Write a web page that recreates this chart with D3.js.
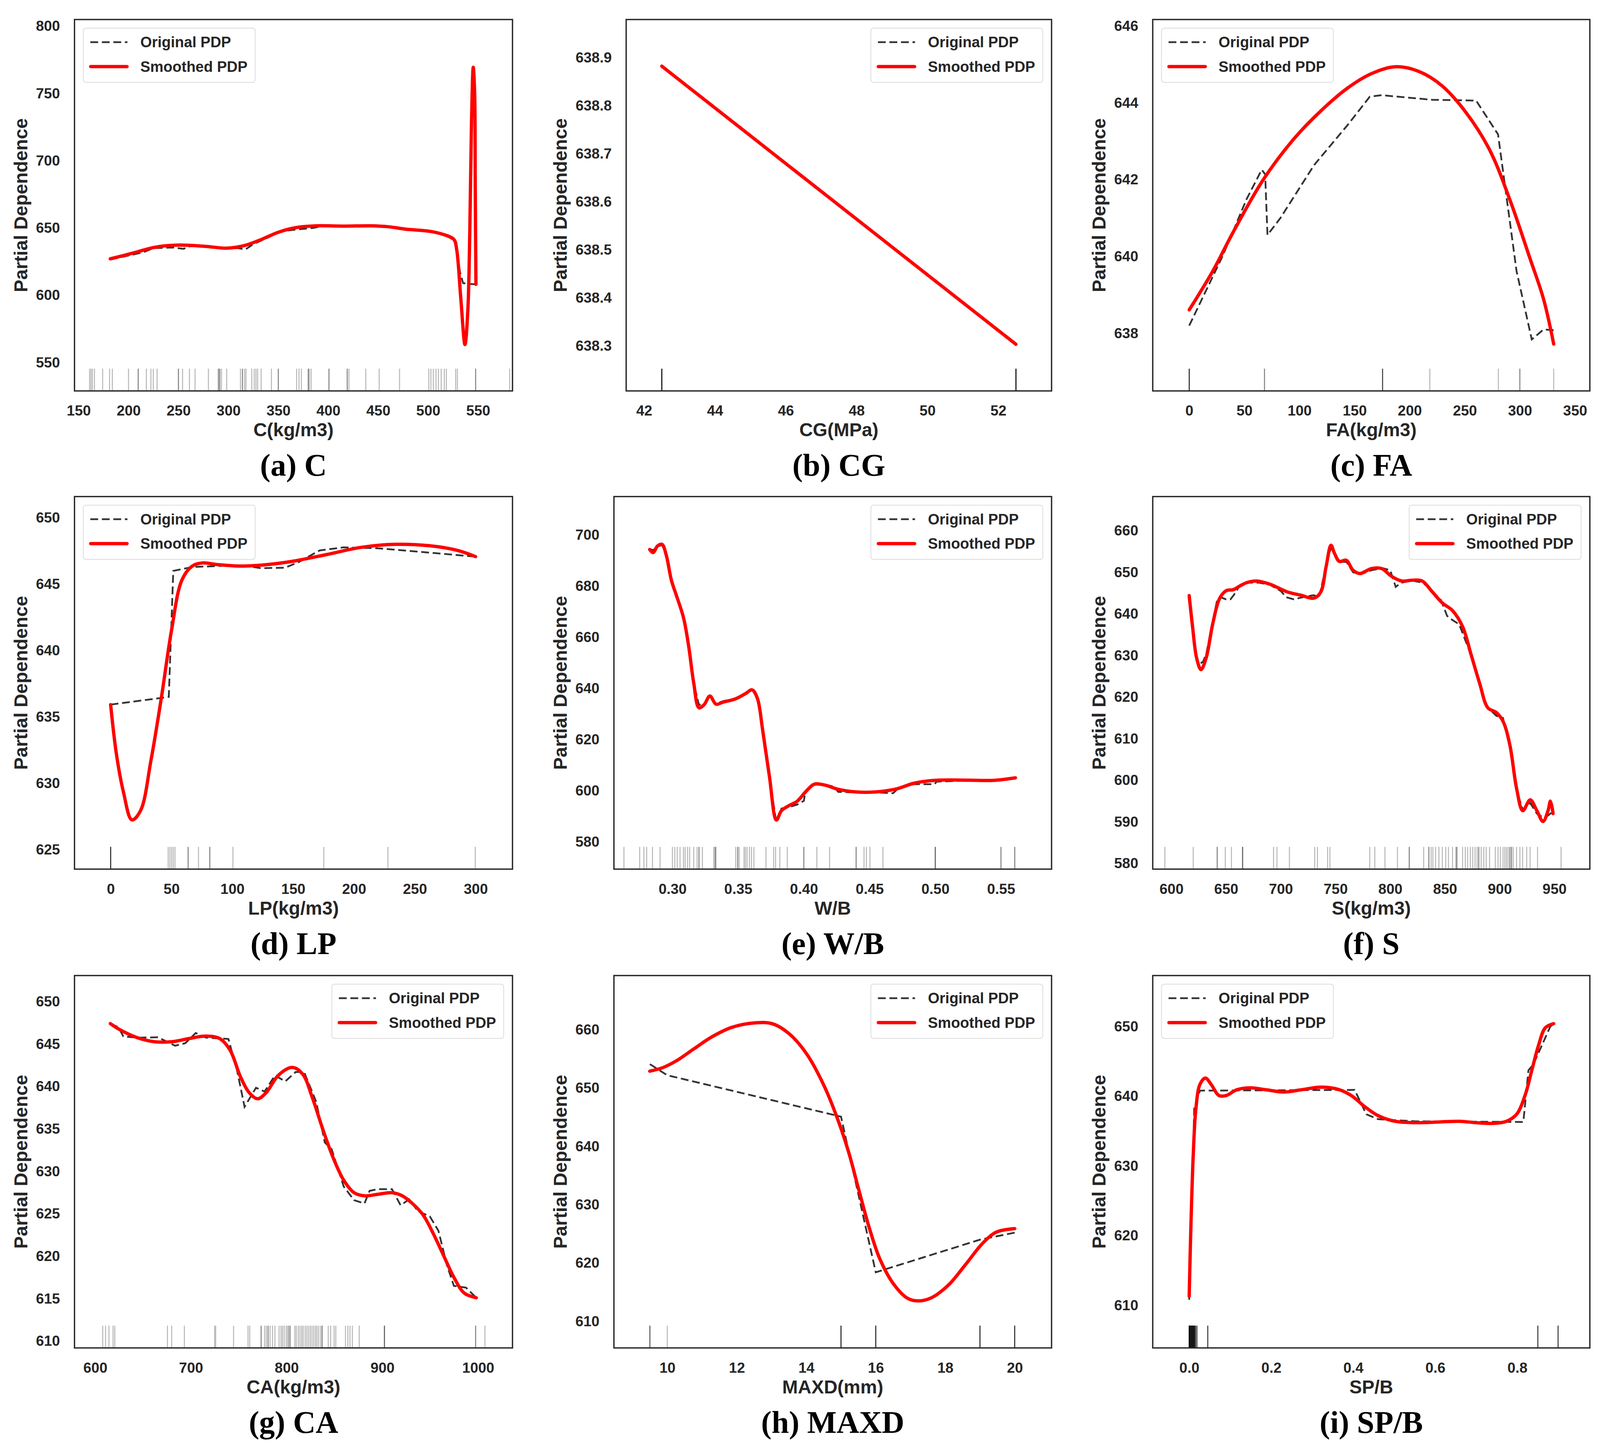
<!DOCTYPE html>
<html>
<head>
<meta charset="utf-8">
<script src="https://cdn.jsdelivr.net/npm/d3@7"></script>
<style>
  body { margin: 0; background: #fff; }
  svg text { font-family: "Liberation Sans", Arial, sans-serif; }
  svg text.caption { font-family: "Liberation Serif", "Times New Roman", serif; }
</style>
</head>
<body>
<svg id="fig" width="4115" height="3718"></svg>
<script>
// ---- (a) C ----
var aOriginal = [[181.7,626.5],[200,629.5],[215,632],[225,635],[245,635.5],[255,634.5],[262,636.5],[280,636],[300,635],[310,635],[317,634],[325,638],[340,643],[352,647.5],[370,649],[385,650],[395,651.5],[420,651.3],[445,651.5],[460,651],[478,648.5],[500,647.5],[515,645.5],[525.9,641],[529,632],[532,617],[535,609],[540,608.5],[547.9,608.1]];
var aSmoothed = [[181.7,627.1],[195,629.5],[208.6,632.2],[225.9,635.6],[250,637.3],[277.6,636.3],[298.3,635.0],[315.5,636.8],[332.8,641.4],[350,646.8],[367.2,650.2],[387.9,651.6],[415.5,651.4],[443.1,651.6],[460.3,650.9],[477.6,649.1],[501.7,647.5],[515.5,645.1],[525.9,641.4],[528.6,634.0],[532.8,597.0],[536.9,563.4],[539.7,587.7],[541.7,645.6],[543.4,726.6],[545.2,769.4],[546.6,749.8],[547.2,680.3],[547.9,608.1]];
var aRug = [161.0,162.4,163.8,165.9,174.1,181.0,183.8,200.0,209.7,209.7,217.9,222.4,224.8,228.6,250.0,250.0,254.1,261.0,266.6,280.0,290.0,290.0,291.4,291.4,293.1,298.3,312.1,314.1,314.1,316.2,317.6,323.4,325.9,327.6,329.3,332.8,343.1,350.0,350.0,368.3,370.7,373.1,380.0,380.0,381.0,382.8,400.7,400.7,419.0,419.0,420.7,437.6,451.0,471.4,500.7,502.8,505.2,507.9,510.3,513.1,516.2,518.3,527.6,529.3,547.6,547.6,581.7];
var aXTicks = [150,200,250,300,350,400,450,500,550];
var aYTicks = [550,600,650,700,750,800];

// ---- (b) CG ----
var bOriginal = [[42.5,638.882],[52.5,638.303]];
var bSmoothed = [[42.5,638.882],[52.5,638.303]];
var bRug = [42.5,42.5,42.5,42.5,42.5,42.5,42.5,52.5,52.5,52.5,52.5,52.5,52.5,52.5];
var bXTicks = [42,44,46,48,50,52];
var bYTicks = [638.3,638.4,638.5,638.6,638.7,638.8,638.9];

// ---- (c) FA ----
var cOriginal = [[0,638.2],[30.6,640.03],[52,641.49],[65.8,642.26],[68.9,642.14],[71,640.56],[82.7,641.0],[113.3,642.38],[143.9,643.43],[163.8,644.16],[174.5,644.2],[220.5,644.08],[260.3,644.06],[280.2,643.18],[297,639.62],[310.8,637.84],[321.5,638.1],[330.7,638.08]];
var cSmoothed = [[0,638.61],[21.4,639.62],[39.8,640.63],[67.4,642.01],[94.9,643.06],[119.4,643.79],[143.9,644.39],[165.3,644.76],[186.7,644.94],[208.2,644.82],[229.6,644.44],[251.1,643.75],[272.5,642.78],[290.9,641.48],[309.3,639.94],[321.5,638.89],[330.7,637.72]];
var cRug = [0,0,0,0,0,68.3,68.3,175.4,175.4,175.4,175.4,218.3,280.5,300,300,330.7];
var cXTicks = [0,50,100,150,200,250,300,350];
var cYTicks = [638,640,642,644,646];

// ---- (d) LP ----
var dOriginal = [[0,635.92],[47.8,636.5],[51.5,646.0],[67.1,646.29],[106.7,646.43],[123.7,646.2],[143.5,646.24],[154.8,646.67],[171.8,647.54],[191.6,647.77],[219.9,647.7],[262.5,647.37],[300,647.07]];
var dSmoothed = [[0,635.92],[4.8,632.16],[10.5,629.34],[17.5,627.23],[24.6,627.93],[33.1,631.69],[41.6,636.38],[50.1,641.55],[58.6,645.31],[67.1,646.36],[75.6,646.6],[86.9,646.48],[106.7,646.36],[129.4,646.48],[152.0,646.76],[177.5,647.23],[205.8,647.77],[234.1,648.0],[262.5,647.89],[285.1,647.54],[300,647.07]];
var dRug = [0,0,0,0,0,47.3,48.7,50.1,51.5,52.9,63.7,63.7,72.2,81.5,81.5,100.5,175.2,227.9,299.7];
var dXTicks = [0,50,100,150,200,250,300];
var dYTicks = [625,630,635,640,645,650];

// ---- (e) W/B ----
var eOriginal = [[0.2827,694.5],[0.2853,694],[0.2887,695.5],[0.2921,696],[0.2953,692.5],[0.2992,682],[0.3031,676],[0.3084,668],[0.3123,657],[0.3162,642],[0.3202,633.5],[0.3241,634],[0.3285,637],[0.3332,634],[0.3385,635],[0.3476,636],[0.3555,638],[0.3607,639.5],[0.3647,636],[0.3686,624],[0.3738,605.5],[0.3791,587.5],[0.3830,593],[0.3882,593.5],[0.3948,594.5],[0.4000,596],[0.4013,600],[0.4079,602.5],[0.4157,602.5],[0.4230,601.5],[0.4262,599.5],[0.4393,599.3],[0.4550,599.3],[0.4680,599.0],[0.4720,601],[0.4838,602.5],[0.4995,602.5],[0.5010,603.5],[0.5257,604],[0.5440,604],[0.5610,604.8]];
var eSmoothed = [[0.2827,694.3],[0.2853,693.1],[0.2887,695.7],[0.2921,696.3],[0.2953,692.1],[0.2992,682.3],[0.3031,676.2],[0.3084,667.7],[0.3123,656.7],[0.3162,642.1],[0.3202,632.4],[0.3241,633.6],[0.3285,637.0],[0.3332,633.8],[0.3385,634.6],[0.3476,635.8],[0.3555,637.9],[0.3607,639.4],[0.3647,636.0],[0.3686,623.9],[0.3738,605.6],[0.3791,588.5],[0.3830,592.2],[0.3882,594.0],[0.3948,595.8],[0.4013,599.5],[0.4079,602.5],[0.4157,602.2],[0.4262,600.5],[0.4393,599.5],[0.4550,599.5],[0.4707,600.7],[0.4838,602.9],[0.4995,604.0],[0.5257,604.1],[0.5440,604.0],[0.5610,605.0]];
var eRug = [0.2631,0.2751,0.2783,0.2804,0.2848,0.2906,0.3,0.3018,0.3037,0.3058,0.3084,0.3097,0.3115,0.3131,0.3162,0.3188,0.3202,0.3202,0.3228,0.3314,0.3325,0.3325,0.3332,0.3482,0.3497,0.3497,0.3508,0.3545,0.3555,0.3568,0.3586,0.3602,0.3620,0.3712,0.3770,0.3785,0.3817,0.3874,0.4,0.4,0.4099,0.4196,0.4398,0.4398,0.4458,0.4476,0.4503,0.4602,0.5,0.5,0.5,0.55,0.55,0.5605,0.5605];
var eXTicks = [0.30,0.35,0.40,0.45,0.50,0.55];
var eYTicks = [580,600,620,640,660,680,700];

// ---- (f) S ----
var fOriginal = [[616.3,644.0],[619.4,637.5],[623.1,629.0],[626,628.0],[629,628.5],[632,630.5],[638,638.5],[642,643.5],[645,644.0],[650,643.5],[654,643.5],[657,644.5],[663,647.0],[670,647.5],[680,647.5],[690,647.0],[700,645.5],[705,644.0],[712,643.5],[720,644.0],[730,644.5],[735,644.0],[741,651.0],[746,656.0],[750,654.0],[754,652.5],[760,652.5],[766,650.0],[773,649.5],[783,650.5],[793,651.0],[800,650.5],[805,646.5],[810,647.5],[820,648.0],[830,647.5],[838,645.5],[846,643.5],[852,639.5],[857,638.5],[863,637.5],[874,630.0],[882,622.5],[889,617.5],[897,615.5],[903,615.0],[909,608.5],[915,598.0],[921,593.0],[928,594.5],[934,592.0],[940,591.0],[944,591.5],[948.8,592.5]];
var fSmoothed = [[616.3,644.4],[619.4,636.9],[623.1,629.4],[627.1,626.6],[631.8,629.4],[637.9,637.7],[644.1,643.7],[650.3,645.6],[656.4,645.8],[662.6,646.7],[668.8,647.5],[678.0,647.9],[690.4,647.1],[705.8,645.3],[718.1,644.5],[730.5,643.8],[736.6,645.3],[741.3,651.2],[745.9,656.5],[749.0,654.6],[753.6,652.6],[759.8,652.9],[766.0,650.5],[772.1,649.7],[782.9,650.9],[792.1,650.9],[801.4,649.0],[810.6,647.9],[819.9,648.1],[829.2,647.9],[838.4,645.3],[847.7,642.6],[856.9,640.8],[866.2,636.9],[873.9,630.2],[881.6,623.4],[889.3,617.4],[897.0,616.3],[903.2,614.1],[909.3,608.5],[915.5,598.0],[921.1,592.7],[927.9,595.3],[934.0,592.7],[939.6,590.1],[944.2,592.7],[946.4,595.0],[948.8,592.0]];
var fRug = [594.1,620.0,641.9,641.9,649.3,654.9,665.1,665.1,665.1,693.4,696.5,707.9,731.0,733.5,742.8,744.9,781.3,785.9,795.2,806.6,817.4,817.4,830.6,835.3,835.3,837.4,839.0,841.4,844.5,847.6,850.7,853.2,856.9,859.9,860.9,860.9,866.1,868.6,870.7,873.2,875.4,877.5,879.4,880.9,880.9,883.1,885.5,887.7,890.8,896.0,898.5,900.6,903.1,904.7,906.2,907.7,909.3,909.3,910.8,910.8,912.4,915.4,918.5,921.0,924.7,927.8,934.6,956.1];
var fXTicks = [600,650,700,750,800,850,900,950];
var fYTicks = [580,590,600,610,620,630,640,650,660];

// ---- (g) CA ----
var gOriginal = [[615.8,647.4],[624.1,647.0],[629.5,645.9],[643.9,645.75],[665.5,645.8],[683.5,644.8],[694.2,645.1],[705.0,646.3],[715.8,645.75],[739.2,645.6],[748.2,641.9],[756.1,637.6],[768.0,639.85],[777.0,639.4],[787.8,641.3],[798.6,640.6],[809.4,641.7],[818.3,641.7],[830.9,638.2],[839.9,633.4],[847.1,632.6],[859.7,628.2],[870.5,626.6],[881.3,626.2],[886.7,627.7],[895.7,627.9],[910.1,627.9],[919.1,626.0],[928.1,626.7],[937.1,625.3],[949.6,624.7],[958.6,623.0],[967.6,618.9],[974.8,616.5],[987.4,616.3],[998.2,615.1]];
var gSmoothed = [[615.8,647.41],[625.9,646.68],[643.9,645.75],[661.9,645.27],[679.9,645.27],[697.8,645.64],[715.8,645.94],[730.2,645.64],[741.0,644.27],[751.8,641.14],[760.8,639.29],[769.8,638.55],[778.8,639.29],[791.4,641.32],[805.8,642.24],[816.5,641.5],[827.3,638.55],[838.1,634.86],[848.9,631.53],[859.7,628.95],[870.5,627.48],[881.3,627.11],[895.7,627.30],[910.1,627.48],[920.9,627.11],[931.7,626.18],[942.4,624.89],[953.2,622.67],[964.0,620.08],[974.8,617.50],[985.6,615.65],[998.2,615.10]];
var gRug = [607.9,610.8,614.4,618.7,620.5,675.5,679.9,693.2,724.8,725.9,744.6,759.7,761.5,773.4,773.4,777.0,778.8,780.6,780.6,782.7,785.3,787.8,792.1,794.2,795.7,797.5,799.6,801.1,802.2,803.2,804.0,808.6,810.1,812.2,814.0,815.8,817.3,819.4,821.2,823.0,824.8,826.6,828.4,830.2,831.7,833.5,835.6,837.1,837.1,843.5,846.0,849.6,851.4,861.5,864.0,866.2,868.7,875.9,902.2,902.2,902.2,997.5,997.5,1007.2];
var gXTicks = [600,700,800,900,1000];
var gYTicks = [610,615,620,625,630,635,640,645,650];

// ---- (h) MAXD ----
var hOriginal = [[9.5,654.1],[10,652.2],[15,645.1],[16,618.4],[19,624.0],[20,625.2]];
var hSmoothed = [[9.495,652.9],[9.87,653.5],[10.27,654.7],[10.76,656.7],[11.26,658.7],[11.85,660.4],[12.54,661.2],[13.04,661.0],[13.53,659.2],[14.03,655.7],[14.52,650.3],[14.92,644.4],[15.22,639.0],[15.51,632.6],[15.81,626.1],[16.11,620.8],[16.50,616.5],[16.90,614.0],[17.20,613.5],[17.59,614.0],[18.09,616.2],[18.58,619.7],[19.08,623.4],[19.47,625.3],[20.0,625.9]];
var hRug = [9.5,9.5,9.5,10,15,15,15,15,15,16,16,16,16,16,19,19,19,19,19,20,20,20,20,20];
var hXTicks = [10,12,14,16,18,20];
var hYTicks = [610,620,630,640,650,660];

// ---- (i) SP/B ----
var iOriginal = [[0,610.8],[0.0123,638.3],[0.0263,640.8],[0.4033,640.9],[0.4321,637.4],[0.4609,636.7],[0.5514,636.4],[0.8148,636.3],[0.8272,643.7],[0.8395,644.6],[0.8807,650.0],[0.8889,650.3]];
var iSmoothed = [[0,611.3],[0.0041,621.2],[0.0099,631.6],[0.0165,638.3],[0.0263,641.7],[0.0395,642.6],[0.0535,641.7],[0.0724,640.1],[0.0905,640.1],[0.1152,640.9],[0.1481,641.2],[0.1893,640.9],[0.2305,640.6],[0.2716,640.9],[0.3210,641.3],[0.3621,641.0],[0.3951,640.1],[0.4280,638.5],[0.4609,637.2],[0.5021,636.4],[0.5514,636.2],[0.6091,636.3],[0.6584,636.4],[0.6996,636.2],[0.7407,636.1],[0.7737,636.4],[0.7984,637.4],[0.8189,640.1],[0.8354,643.7],[0.8519,647.3],[0.8683,649.8],[0.8889,650.4]];
var iRug = [0,0,0,0,0,0,0,0,0.001,0.001,0.001,0.002,0.002,0.002,0.003,0.003,0.003,0.004,0.004,0.004,0.005,0.005,0.005,0.006,0.006,0.006,0.007,0.007,0.007,0.008,0.008,0.008,0.009,0.009,0.009,0.01,0.01,0.01,0.011,0.011,0.011,0.012,0.012,0.012,0.013,0.013,0.013,0.014,0.014,0.015,0.015,0.016,0.017,0.018,0.019,0.02,0.0453,0.0453,0.0453,0.0453,0.8502,0.8502,0.8502,0.8502,0.8996,0.8996,0.8996,0.8996];
var iXTicks = [0.0,0.2,0.4,0.6,0.8];
var iYTicks = [610,620,630,640,650];

var legendLabels = ["Original PDP", "Smoothed PDP"];

// layout of the 3x3 grid (frame edges in px)
var rowsTB = [[50,1001],[1271.5,2225.5],[2498,3451.5]];
var TXT = "#262626";

var panels = [
  {cap:"(a) C", xl:"C(kg/m3)", o:aOriginal, s:aSmoothed, rug:aRug, xt:aXTicks, yt:aYTicks, xd:[145.9,584.5], yd:[528.9,804.9], xf:"d", yf:"d", leg:"left", lr:[190.7,1312], row:0},
  {cap:"(b) CG", xl:"CG(MPa)", o:bOriginal, s:bSmoothed, rug:bRug, xt:bXTicks, yt:bYTicks, xd:[41.495,53.505], yd:[638.206,638.979], xf:"d", yf:".1f", leg:"right", lr:[1603,2692], row:0},
  {cap:"(c) FA", xl:"FA(kg/m3)", o:cOriginal, s:cSmoothed, rug:cRug, xt:cXTicks, yt:cYTicks, xd:[-33.1,363.5], yd:[636.5,646.17], xf:"d", yf:"d", leg:"left", lr:[2951,4070], row:0},
  {cap:"(d) LP", xl:"LP(kg/m3)", o:dOriginal, s:dSmoothed, rug:dRug, xt:dXTicks, yt:dYTicks, xd:[-29.7,330.3], yd:[623.52,651.6], xf:"d", yf:"d", leg:"left", lr:[190.7,1312], row:1},
  {cap:"(e) W/B", xl:"W/B", o:eOriginal, s:eSmoothed, rug:eRug, xt:eXTicks, yt:eYTicks, xd:[0.2555,0.5885], yd:[569.3,715.0], xf:".2f", yf:"d", leg:"right", lr:[1571.7,2692], row:1},
  {cap:"(f) S", xl:"S(kg/m3)", o:fOriginal, s:fSmoothed, rug:fRug, xt:fXTicks, yt:fYTicks, xd:[583.0,982.4], yd:[578.65,668.2], xf:"d", yf:"d", leg:"right", lr:[2951,4070], row:1},
  {cap:"(g) CA", xl:"CA(kg/m3)", o:gOriginal, s:gSmoothed, rug:gRug, xt:gXTicks, yt:gYTicks, xd:[578.4,1036.0], yd:[609.19,653.07], xf:"d", yf:"d", leg:"right", lr:[190.7,1312], row:2},
  {cap:"(h) MAXD", xl:"MAXD(mm)", o:hOriginal, s:hSmoothed, rug:hRug, xt:hXTicks, yt:hYTicks, xd:[8.465,21.06], yd:[605.43,669.3], xf:"d", yf:"d", leg:"right", lr:[1571.7,2692], row:2},
  {cap:"(i) SP/B", xl:"SP/B", o:iOriginal, s:iSmoothed, rug:iRug, xt:iXTicks, yt:iYTicks, xd:[-0.0889,0.977], yd:[603.9,657.3], xf:".1f", yf:"d", leg:"left", lr:[2951,4070], row:2}
];

var svg = d3.select("#fig");
svg.append("rect").attr("width", 4115).attr("height", 3718).attr("fill", "#fff");

panels.forEach(function(p) {
  var L = p.lr[0], R = p.lr[1],
      T = rowsTB[p.row][0], B = rowsTB[p.row][1];
  var x = d3.scaleLinear().domain(p.xd).range([L, R]);
  var y = d3.scaleLinear().domain(p.yd).range([B, T]);
  var g = svg.append("g");

  // rug
  g.append("g").selectAll("line")
      .data(p.rug)
    .enter().append("line")
      .attr("x1", function(d) { return x(d); })
      .attr("x2", function(d) { return x(d); })
      .attr("y1", B)
      .attr("y2", B - 57)
      .attr("stroke", "#000")
      .attr("stroke-opacity", 0.28)
      .attr("stroke-width", 2.6);

  var lineO = d3.line()
      .x(function(d) { return x(d[0]); })
      .y(function(d) { return y(d[1]); });
  var lineS = d3.line()
      .x(function(d) { return x(d[0]); })
      .y(function(d) { return y(d[1]); })
      .curve(d3.curveCatmullRom.alpha(0.5));

  g.append("path")
      .attr("d", lineO(p.o))
      .attr("fill", "none")
      .attr("stroke", "#333")
      .attr("stroke-width", 4.5)
      .attr("stroke-dasharray", "20,9.5");
  g.append("path")
      .attr("d", lineS(p.s))
      .attr("fill", "none")
      .attr("stroke", "#ff0000")
      .attr("stroke-width", 8.5)
      .attr("stroke-linejoin", "round")
      .attr("stroke-linecap", "round");

  // axes
  var xAxis = g.append("g")
      .attr("transform", "translate(0," + B + ")")
      .call(d3.axisBottom(x).tickValues(p.xt).tickSize(0).tickPadding(37).tickFormat(d3.format(p.xf)));
  var yAxis = g.append("g")
      .attr("transform", "translate(" + L + ",0)")
      .call(d3.axisLeft(y).tickValues(p.yt).tickSize(0).tickPadding(37).tickFormat(d3.format(p.yf)));
  [xAxis, yAxis].forEach(function(a) {
    a.select(".domain").remove();
    a.selectAll("text")
      .attr("font-size", 37)
      .attr("font-weight", "bold")
      .attr("fill", TXT);
  });

  // frame
  g.append("rect")
      .attr("x", L).attr("y", T)
      .attr("width", R - L).attr("height", B - T)
      .attr("fill", "none")
      .attr("stroke", TXT)
      .attr("stroke-width", 3.4);

  // axis labels
  var maxW = d3.max(yAxis.selectAll("text").nodes(), function(n) { return n.getBBox().width; });
  g.append("text")
      .attr("transform", "translate(" + (L - 37 - maxW - 22) + "," + ((T + B) / 2) + ") rotate(-90)")
      .attr("text-anchor", "middle")
      .attr("font-size", 48)
      .attr("font-weight", "bold")
      .attr("fill", TXT)
      .text("Partial Dependence");
  g.append("text")
      .attr("x", (L + R) / 2)
      .attr("y", B + 116)
      .attr("text-anchor", "middle")
      .attr("font-size", 48)
      .attr("font-weight", "bold")
      .attr("fill", TXT)
      .text(p.xl);

  // legend
  var lw = 440, lh = 139;
  var bx = p.leg === "left" ? L + 22.5 : R - 22.5 - lw,
      by = T + 22;
  var lg = g.append("g").attr("transform", "translate(" + bx + "," + by + ")");
  lg.append("rect")
      .attr("width", lw).attr("height", lh)
      .attr("rx", 7)
      .attr("fill", "#fff").attr("fill-opacity", 0.85)
      .attr("stroke", "#dcdcdc").attr("stroke-width", 2);
  lg.append("line")
      .attr("x1", 18).attr("x2", 113).attr("y1", 36).attr("y2", 36)
      .attr("stroke", "#333").attr("stroke-width", 4.5)
      .attr("stroke-dasharray", "20,9.5");
  lg.append("line")
      .attr("x1", 19).attr("x2", 112).attr("y1", 98.5).attr("y2", 98.5)
      .attr("stroke", "#ff0000").attr("stroke-width", 8.5)
      .attr("stroke-linecap", "round");
  lg.selectAll("text.lab")
      .data(legendLabels)
    .enter().append("text")
      .attr("class", "lab")
      .attr("x", 146)
      .attr("y", function(d, i) { return i === 0 ? 36 : 98.5; })
      .attr("dy", "0.35em")
      .attr("font-size", 38)
      .attr("font-weight", "bold")
      .attr("fill", TXT)
      .text(function(d) { return d; });

  // caption
  g.append("text")
      .attr("class", "caption")
      .attr("x", (L + R) / 2)
      .attr("y", B + 217)
      .attr("text-anchor", "middle")
      .attr("font-size", 80)
      .attr("font-weight", "bold")
      .attr("fill", "#000")
      .text(p.cap);
});
</script>
</body>
</html>
